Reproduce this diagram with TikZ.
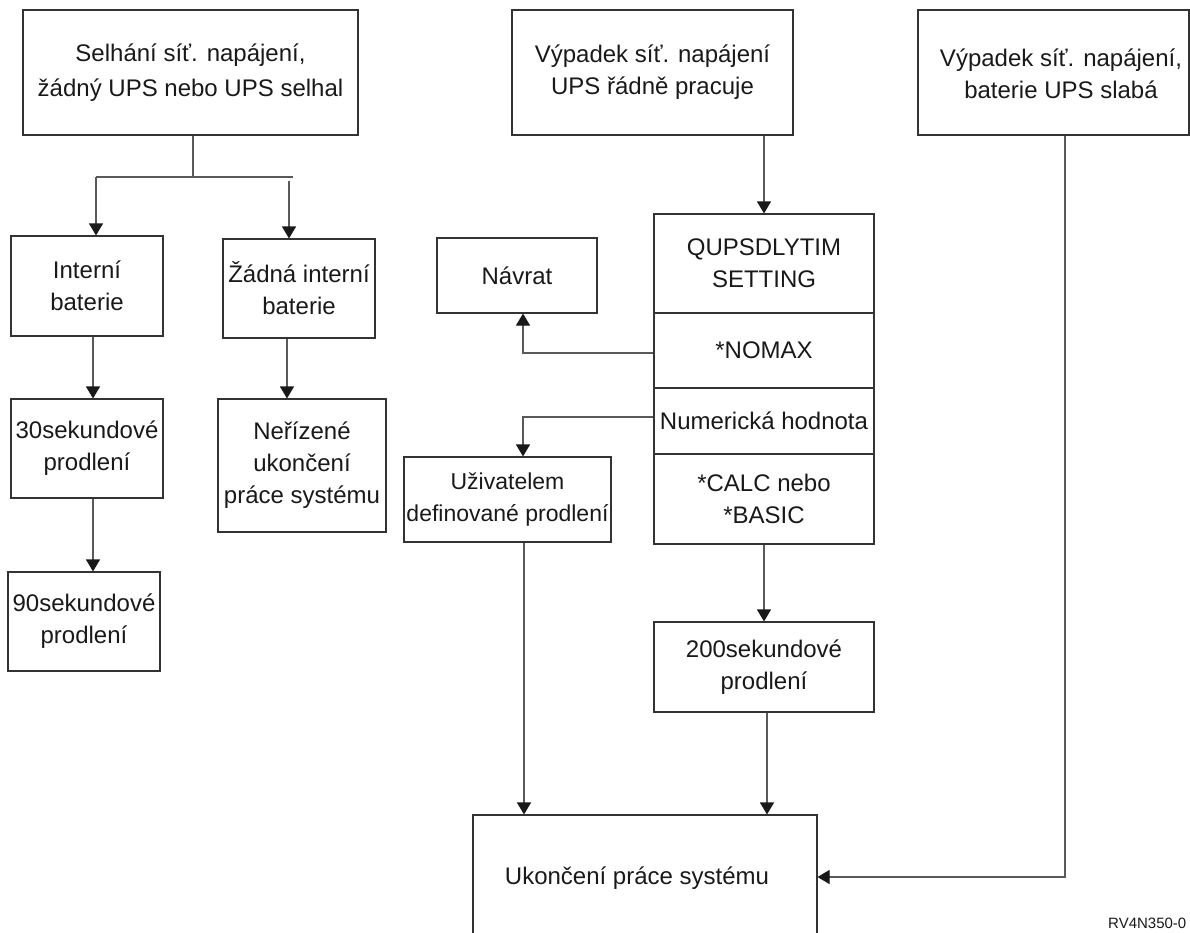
\documentclass[tikz,border=0pt]{standalone}
\usepackage{fontspec}
\setmainfont{Liberation Sans}
\usetikzlibrary{arrows.meta}
\begin{document}
\begin{tikzpicture}[x=1pt,y=-1pt,
  box/.style={draw=black!80, line width=1.1pt, inner sep=0pt, align=center,
              text=black!90, font=\fontsize{24}{32}\selectfont},
  txt/.style={inner sep=0pt, align=center, text=black!90, font=\fontsize{24}{32}\selectfont},
  conn/.style={draw=black!65, line width=1.1pt},
  arr/.style={conn, -{Triangle[width=14pt,length=12pt,color=black!90]}}]
\useasboundingbox (0,0) rectangle (1190,932);
\clip (0,0) rectangle (1190,932);

% top boxes
\node[box, minimum width=335pt, minimum height=125pt, font=\fontsize{24}{35}\selectfont] (A) at (190.5,72.5)
  {Selhání síť. napájení,\\ žádný UPS nebo UPS selhal};
\node[box, minimum width=281pt, minimum height=125pt] (G) at (652.5,72.5)
  {Výpadek síť. napájení\\UPS řádně pracuje};
\node[box, minimum width=271pt, minimum height=125pt] (I) at (1053.5,72.5) {};
\node[txt] (Itxt) at (1061,74) {Výpadek síť. napájení,\\baterie UPS slabá};

% left branch
\node[box, minimum width=152pt, minimum height=100pt] (B) at (87,286) {Interní\\baterie};
\node[box, minimum width=152pt, minimum height=99pt] (C) at (299,288.5) {Žádná interní\\baterie};
\node[box, minimum width=152pt, minimum height=99pt] (D) at (87,448.5) {30sekundové\\prodlení};
\node[box, minimum width=152pt, minimum height=99pt] (E) at (84,621.5) {90sekundové\\prodlení};
\node[box, minimum width=168pt, minimum height=133pt] (F) at (302,465.5) {Neřízené\\ukončení\\práce systému};

% middle
\node[box, minimum width=160pt, minimum height=75pt] (Nav) at (517,275.5) {Návrat};
\node[box, minimum width=220pt, minimum height=99pt] (h1) at (764,263.5) {QUPSDLYTIM\\SETTING};
\node[box, minimum width=220pt, minimum height=75pt] (h2) at (764,350.5) {*NOMAX};
\node[box, minimum width=220pt, minimum height=66pt] (h3) at (764,421) {Numerická hodnota};
\node[box, minimum width=220pt, minimum height=90pt] (h4) at (764,499) {*CALC nebo\\*BASIC};
\node[box, minimum width=207pt, minimum height=85pt, font=\fontsize{23}{32}\selectfont] (U) at (507.5,499.5) {Uživatelem\\definované prodlení};
\node[box, minimum width=220pt, minimum height=90pt] (S) at (764,667) {200sekundové\\prodlení};
\node[box, minimum width=344pt, minimum height=150pt] (K) at (645,890) {};
\node[txt] (Ktxt) at (637,878) {Ukončení práce systému};

\node[inner sep=0pt, anchor=base west, text=black!90, font=\fontsize{15}{18}\selectfont] (code) at (1108,928) {RV4N350-0};

% connectors left
\coordinate (j) at (193,177);
\coordinate (jl) at (96,177);
\coordinate (jr) at (293,177);
\coordinate (jr2) at (289,181);
\draw[conn] (A.south -| j) -- (j);
\draw[conn] (jl) -- (jr);
\draw[arr] (jl) -- (jl |- B.north);
\draw[arr] (jr2) -- (jr2 |- C.north);
\draw[arr] ([xshift=6pt]B.south) -- ([xshift=6pt]B.south |- D.north);
\draw[arr] ([xshift=6pt]D.south) -- ([xshift=6pt]D.south |- E.north);
\draw[arr] ([xshift=-12pt]C.south) -- ([xshift=-12pt]C.south |- F.north);

% connectors middle
\draw[arr] (G.south -| h1.north) -- (h1.north);
\draw[arr] ([yshift=-2.5pt]h2.west) -| ([xshift=6pt]Nav.south);
\draw[arr] ([yshift=4pt]h3.west) -| ([xshift=15.5pt]U.north);
\draw[arr] ([xshift=16.5pt]U.south) -- ([xshift=16.5pt]U.south |- K.north);
\draw[arr] (h4.south) -- (S.north);
\draw[arr] ([xshift=3pt]S.south) -- ([xshift=3pt]S.south |- K.north);

% right
\coordinate (ic) at (1065,877);
\draw[arr] (I.south -| ic) -- (ic) -- (ic -| K.east);
\end{tikzpicture}
\end{document}
